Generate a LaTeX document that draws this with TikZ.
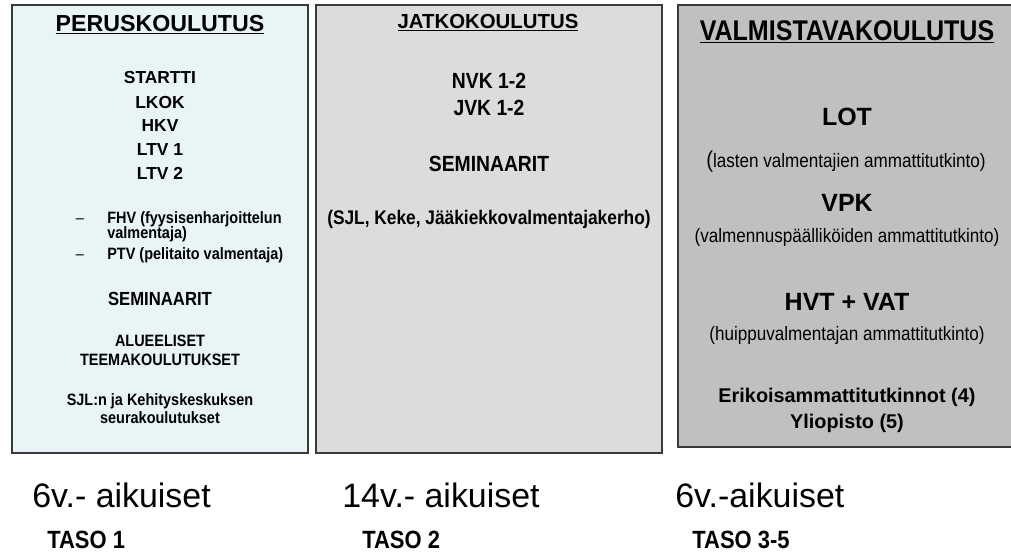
\documentclass[tikz,border=0pt]{standalone}
\usepackage{fontspec}
\setmainfont{Liberation Sans}
\newfontfamily\narrowsf{Liberation Sans}[FakeStretch=0.88]
\usepackage{tikz}
\definecolor{perusc}{HTML}{E8F4F6}
\definecolor{jatkoc}{HTML}{DCDCDC}
\definecolor{valmc}{HTML}{C0C0C0}
\definecolor{edgec}{HTML}{3A3A3A}

\begin{document}
\begin{tikzpicture}[x=0.02cm,y=-0.02cm,
		every node/.style={inner sep=0pt,anchor=base},
		boxline/.style={draw=edgec,line width=0.9pt},
		bigb/.style={font=\bfseries\fontsize{#1}{#1}\selectfont},
		nrwb/.style={font=\narrowsf\bfseries\fontsize{#1}{#1}\selectfont},
		nrw/.style={font=\narrowsf\fontsize{#1}{#1}\selectfont},
		age/.style={font=\fontsize{19.3pt}{19.3pt}\selectfont,anchor=base west},
		taso/.style={nrwb=14.2pt,anchor=base west}]
		\useasboundingbox (0,0) rectangle (1011,552);
		% boxes
		\draw[boxline,fill=perusc](12,5) rectangle (308,453);
		\draw[boxline,fill=jatkoc](316,5) rectangle (662,453);
		\fill[valmc](678,5) rectangle (1011,447);
		\draw[boxline](1011,5)--(678,5)--(678,447)--(1011,447);
		% taso 1
		\node[bigb=13.2pt] (peru) at (160,31) {\underline{PERUSKOULUTUS}};
		\node[bigb=9.9pt] (startti) at (160,83) {STARTTI};
		\node[bigb=9.9pt] (lkok) at (160,108) {LKOK};
		\node[bigb=9.9pt] (hkv) at (160,131) {HKV};
		\node[bigb=9.9pt] (ltv1) at (160,155) {LTV 1};
		\node[bigb=9.9pt] (ltv2) at (160,179) {LTV 2};
		\node[nrw=9.35pt] (dash1) at (80,223) {\textendash};
		\node[nrwb=9.35pt,anchor=base west] (fhv) at (107,223) {FHV (fyysisenharjoittelun};
		\node[nrwb=9.35pt,anchor=base west] (fhv2) at (107,238) {valmentaja)};
		\node[nrw=9.35pt] (dash2) at (80,259) {\textendash};
		\node[nrwb=9.35pt,anchor=base west] (ptv) at (107,259) {PTV (pelitaito valmentaja)};
		\node[nrwb=10.8pt] (sem1) at (160,305) {SEMINAARIT};
		\node[nrwb=9.35pt] (alue) at (160,346) {ALUEELISET};
		\node[nrwb=9.35pt] (teema) at (160,365) {TEEMAKOULUTUKSET};
		\node[nrwb=9.35pt] (sjl) at (160,405) {SJL:n ja Kehityskeskuksen};
		\node[nrwb=9.35pt] (seura) at (160,423) {seurakoulutukset};
		% taso 2
		\node[bigb=11.6pt] (jatko) at (488,28) {\underline{JATKOKOULUTUS}};
		\node[nrwb=12.5pt] (nvk) at (489,88) {NVK 1-2};
		\node[nrwb=12.5pt] (jvk) at (489,115) {JVK 1-2};
		\node[nrwb=12.5pt] (sem2) at (489,171) {SEMINAARIT};
		\node[nrwb=11.2pt] (kerho) at (489,224) {(SJL, Keke, Jääkiekkovalmentajakerho)};
		% taso 3-5
		\node[nrwb=16.2pt] (valm) at (847,40) {\underline{VALMISTAVAKOULUTUS}};
		\node[bigb=14.2pt] (lot) at (847,125) {LOT};
		\node[nrw=11.05pt] (lot2) at (846,167) {{\fontsize{13pt}{13pt}\selectfont(}lasten valmentajien ammattitutkinto)};
		\node[bigb=14.2pt] (vpk) at (847,211) {VPK};
		\node[nrw=11.05pt] (vpk2) at (847,242) {(valmennuspäälliköiden ammattitutkinto)};
		\node[bigb=14.2pt] (hvt) at (847,310) {HVT + VAT};
		\node[nrw=11.05pt] (hvt2) at (847,340) {(huippuvalmentajan ammattitutkinto)};
		\node[bigb=11.3pt] (eat) at (847,402) {Erikoisammattitutkinnot (4)};
		\node[bigb=11.3pt] (yo) at (847,428) {Yliopisto (5)};
		% ages and levels
		\node[age] (age1) at (32,507) {6v.- aikuiset};
		\node[age] (age2) at (342,507) {14v.- aikuiset};
		\node[age] (age3) at (675,507) {6v.-aikuiset};
		\node[taso] (taso1) at (47,548) {TASO 1};
		\node[taso] (taso2) at (362,548) {TASO 2};
		\node[taso] (taso3) at (692,548) {TASO 3-5};
	\end{tikzpicture}
\end{document}
